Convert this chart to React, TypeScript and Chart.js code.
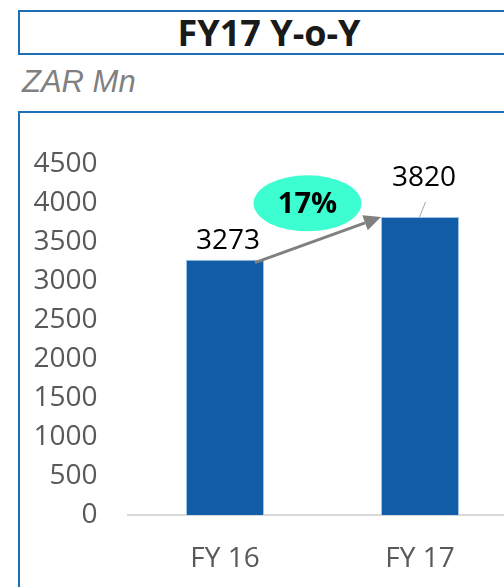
import React, { useEffect, useRef } from "react";
import { Chart, registerables } from "chart.js";

Chart.register(...registerables);

const categories = ["FY 16", "FY 17"];
const revenue = [3273, 3820];
const yTicks = [0, 500, 1000, 1500, 2000, 2500, 3000, 3500, 4000, 4500];
const titleText = "FY17 Y-o-Y";
const unitText = "ZAR Mn";

const FONT = "'Open Sans', 'Noto Sans', sans-serif";
const BLUE_BORDER = "#1f6fb4";

const annotPlugin = {
  id: "annot",
  afterDatasetsDraw(chart: any) {
    const ctx = chart.ctx;
    const meta = chart.getDatasetMeta(0);
    const b0 = meta.data[0];
    const b1 = meta.data[1];
    if (!b0 || !b1) return;
    ctx.save();
    // data labels
    ctx.font = `28px ${FONT}`;
    ctx.fillStyle = "#000000";
    ctx.textAlign = "center";
    ctx.textBaseline = "middle";
    ctx.fillText(String(revenue[0]), b0.x + 3, b0.y - 19);
    ctx.fillText(String(revenue[1]), b1.x + 4, b1.y - 39);
    // leader line
    ctx.strokeStyle = "#a6a6a6";
    ctx.lineWidth = 1;
    ctx.beginPath();
    ctx.moveTo(b1.x - 0.5, b1.y);
    ctx.lineTo(b1.x + 5.5, b1.y - 15);
    ctx.stroke();
    // arrow
    const sx = b0.x + 30, sy = b0.y + 3;
    const ex = b1.x - 39, ey = b1.y;
    const ang = Math.atan2(ey - sy, ex - sx);
    const headL = 17, headW = 8;
    const bx = ex - headL * Math.cos(ang), by = ey - headL * Math.sin(ang);
    ctx.strokeStyle = "#808080";
    ctx.fillStyle = "#808080";
    ctx.lineWidth = 3;
    ctx.beginPath();
    ctx.moveTo(sx, sy);
    ctx.lineTo(bx, by);
    ctx.stroke();
    ctx.beginPath();
    ctx.moveTo(ex, ey);
    ctx.lineTo(bx + headW * Math.sin(ang), by - headW * Math.cos(ang));
    ctx.lineTo(bx - headW * Math.sin(ang), by + headW * Math.cos(ang));
    ctx.closePath();
    ctx.fill();
    // ellipse
    const cx = (b0.x + b1.x) / 2 - 15;
    const cy = (b0.y + b1.y) / 2 - 35;
    ctx.fillStyle = "#3dfed0";
    ctx.beginPath();
    ctx.ellipse(cx, cy, 54, 28, 0, 0, Math.PI * 2);
    ctx.fill();
    const pct = Math.round((revenue[1] / revenue[0] - 1) * 100);
    ctx.fillStyle = "#000000";
    ctx.font = `bold 29px ${FONT}`;
    ctx.fillText(`${pct}%`, cx, cy + 1);
    ctx.restore();
  },
};

export default function App() {
  const ref = useRef<HTMLCanvasElement | null>(null);

  useEffect(() => {
    if (!ref.current) return;
    const chart = new Chart(ref.current, {
      type: "bar",
      data: {
        labels: categories,
        datasets: [
          {
            data: revenue,
            backgroundColor: "#125ca8",
            borderColor: "#9dc3e6",
            borderWidth: 1,
            categoryPercentage: 1,
            barPercentage: 0.4,
          },
        ],
      },
      options: {
        animation: false,
        responsive: false,
        maintainAspectRatio: false,
        layout: { padding: { top: 164, right: 22.5, left: 0, bottom: 0 } },
        plugins: {
          legend: { display: false },
          tooltip: { enabled: false },
        },
        scales: {
          x: {
            grid: { display: false, drawTicks: false },
            border: { display: true, color: "#d9d9d9", width: 2 },
            ticks: {
              color: "#595959",
              font: { family: FONT, size: 28 },
              padding: 27,
            },
            afterFit(scale: any) {
              scale.height = 72;
            },
          },
          y: {
            min: 0,
            max: 4500,
            grid: { display: false, drawTicks: false },
            border: { display: false },
            afterBuildTicks(scale: any) {
              scale.ticks = yTicks.map((v) => ({ value: v }));
            },
            ticks: {
              color: "#595959",
              font: { family: FONT, size: 28 },
              padding: 30,
              callback: (v: any) => String(v),
            },
            afterFit(scale: any) {
              scale.width = 127.5;
            },
          },
        },
      },
      plugins: [annotPlugin],
    });
    return () => chart.destroy();
  }, []);

  return (
    <div
      style={{
        position: "fixed",
        left: 0,
        top: 0,
        width: 504,
        height: 587,
        overflow: "hidden",
        background: "#ffffff",
      }}
    >
      <div
        style={{
          position: "absolute",
          left: 18,
          top: 10,
          width: 600,
          height: 41,
          border: `2px solid ${BLUE_BORDER}`,
        }}
      />
      <div
        style={{
          position: "absolute",
          left: 0,
          width: 538,
          top: 10,
          height: 45,
          lineHeight: "45px",
          textAlign: "center",
          fontFamily: FONT,
          fontWeight: 700,
          fontSize: 36,
          color: "#1a1a1a",
        }}
      >
        {titleText}
      </div>
      <div
        style={{
          position: "absolute",
          left: 22,
          top: 64,
          fontFamily: "'Liberation Sans', Arial, sans-serif",
          fontStyle: "italic",
          fontSize: 31,
          lineHeight: "36px",
          color: "#808080",
        }}
      >
        {unitText}
      </div>
      <div
        style={{
          position: "absolute",
          left: 18,
          top: 111,
          width: 600,
          height: 600,
          border: `2px solid ${BLUE_BORDER}`,
        }}
      />
      <canvas
        ref={ref}
        width={540}
        height={587}
        style={{ position: "absolute", left: 0, top: 0, width: 540, height: 587 }}
      />
    </div>
  );
}
